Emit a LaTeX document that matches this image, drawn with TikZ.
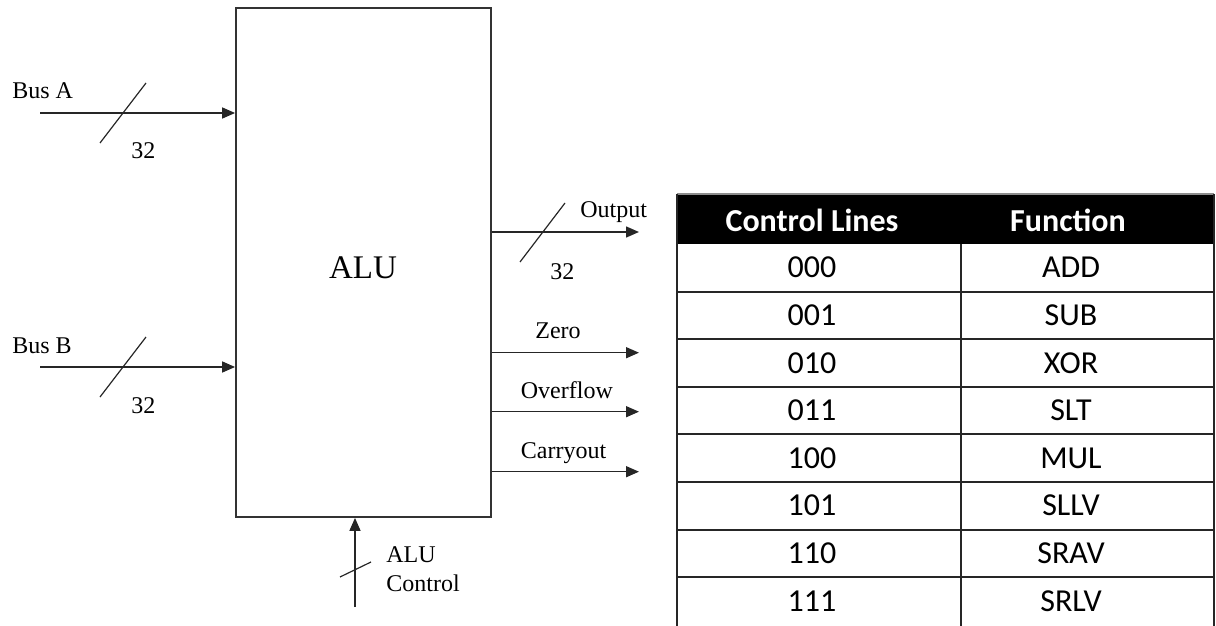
\documentclass[tikz,border=0pt]{standalone}
\usepackage{fontspec}
\setmainfont{Liberation Serif}
\newfontfamily\tablefont{Carlito}
\usepackage{tikz}
\usetikzlibrary{arrows.meta,positioning}

\tikzset{
  bus/.style={line width=0.75pt,draw=black!85,-{Triangle[length=6.5pt,width=5.5pt]}},
  slash/.style={line width=0.6pt,draw=black!85},
  lbl/.style={inner sep=0pt,font=\fontsize{12}{14}\selectfont},
  cell/.style={inner sep=0pt,font=\tablefont\fontsize{16}{19}\selectfont},
  headcell/.style={inner sep=0pt,text=white,font=\tablefont\bfseries\fontsize{16}{19}\selectfont},
  rule/.style={line width=1pt,draw=black!85}
}

\begin{document}
\begin{tikzpicture}[x=0.5pt,y=-0.5pt]

    \useasboundingbox (0,0) rectangle (1216,626);
          % Page in pixels of the reference

    \node[draw=black!80,line width=0.9pt,minimum width=127.5pt,minimum height=254.5pt,inner sep=0pt] (alu) at (363.5,262.5) {};
    \node[font=\fontsize{16.5}{20}\selectfont,inner sep=0pt] (alulbl) at (363,268) {ALU};
          % The ALU block

    % Inputs on the left
    \coordinate (busA) at (40,113);
    \coordinate (busB) at (40,367);
    \draw[bus] (busA) -- (busA -| alu.west);
    \draw[bus] (busB) -- (busB -| alu.west);
    \draw[slash] (100,143) -- (146,83);
    \draw[slash] (100,397) -- (146,337);
    \node[lbl,anchor=base west] (busAlbl) at (12,99) {Bus A};
    \node[lbl,anchor=base west] (busAw) at (131,159) {32};
    \node[lbl,anchor=base west] (busBlbl) at (12,353) {Bus B};
    \node[lbl,anchor=base west] (busBw) at (131,413) {32};

    % Outputs on the right
    \coordinate (out) at (639,232);
    \coordinate (zero) at (639,352.7);
    \coordinate (ovf) at (639,411.7);
    \coordinate (cout) at (639,471.7);
    \foreach \o in {out,zero,ovf,cout}{%
      \draw[bus] (\o -| alu.east) -- (\o);
    }
    \draw[slash] (520,262) -- (565,203);
    \node[lbl,anchor=base west] (outlbl) at (580,218) {Output};
    \node[lbl,anchor=base west] (outw) at (550,279) {32};
    \node[lbl,anchor=base west] (zerolbl) at (535,338) {Zero};
    \node[lbl,anchor=base west] (ovflbl) at (520.5,398) {Overflow};
    \node[lbl,anchor=base west] (coutlbl) at (520.5,458) {Carryout};

    % Control input from below
    \coordinate (ctrl) at (355,607);
    \draw[bus] (ctrl) -- (ctrl |- alu.south);
    \draw[slash] (340,577) -- (371,562);
    \node[lbl,anchor=base west] (ctrllbl) at (386,562) {ALU};
    \node[lbl,anchor=base west] (ctrllblb) at (386,591) {Control};

    % Table of functions
    \fill[black] (677,194) rectangle (1214,244);
    \draw[rule,draw=black!45] (677,194) -- (1214,194);
    \node[headcell] (head1) at (812,220) {Control Lines};
    \node[headcell] (head2) at (1068,220) {Function};
    \draw[rule] (677,194) -- (677,626);
    \draw[rule] (1214,194) -- (1214,626);
    \draw[rule] (960.5,244) -- (960.5,626);
    \foreach \i in {1,...,7}{% Lines between the rows
      \draw[rule] (677,244+47.6*\i) -- (1214,244+47.6*\i);
    }
    \foreach \code/\fn [count=\i] in {000/ADD,001/SUB,010/XOR,011/SLT,100/MUL,101/SLLV,110/SRAV,111/SRLV}{%
      \node[cell] (code\i) at (812,220+47.6*\i) {\code};
      \node[cell] (fn\i) at (1071,220+47.6*\i) {\fn};
    }

\end{tikzpicture}
\end{document}
